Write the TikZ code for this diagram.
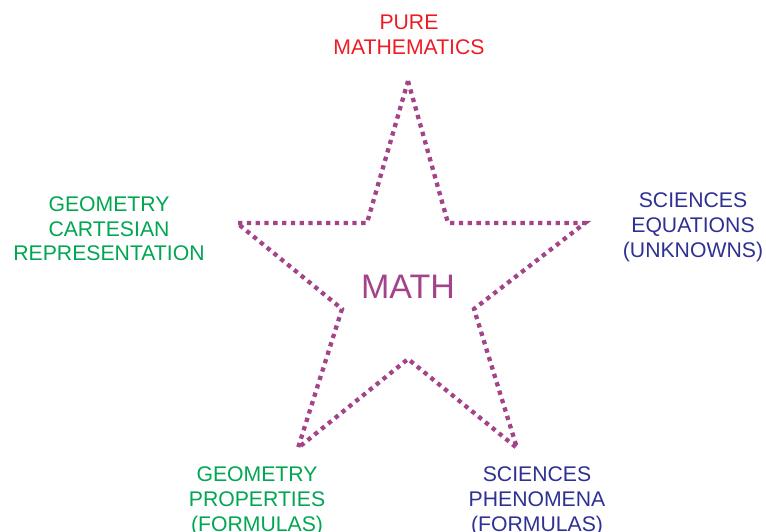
\documentclass[tikz,border=0pt]{standalone}
\usepackage{fontspec}
\setmainfont{Liberation Sans}
\definecolor{starpurple}{HTML}{A3448A}
\definecolor{mred}{HTML}{ED1C24}
\definecolor{mgreen}{HTML}{00A651}
\definecolor{mnavy}{HTML}{2E3192}
\begin{document}
\begin{tikzpicture}[x=1pt,y=-1pt,
  lbl/.style={anchor=north,inner sep=0pt,align=center,font=\fontsize{21.2}{24.6}\selectfont},
  starline/.style={draw=starpurple,line width=4.3pt,dash pattern=on 4.3pt off 4.5pt,line join=miter}]
\useasboundingbox (0,0) rectangle (766,532);
\coordinate (t) at (408,81);
\coordinate (ri) at (448,223);
\coordinate (r) at (585,223);
\coordinate (rl) at (474,309);
\coordinate (br) at (517,448);
\coordinate (b) at (408,359);
\coordinate (bl) at (298,448);
\coordinate (ll) at (342,309);
\coordinate (l) at (237,223);
\coordinate (li) at (367,223);
\draw[starline] (t) -- (ri) -- (r) -- (rl) -- (br) -- (b) -- (bl) -- (ll) -- (l) -- (li) -- cycle;
\node[anchor=base,inner sep=0pt,text=starpurple,font=\fontsize{34}{40}\selectfont] (math) at (408,298) {MATH};
\node[lbl,text=mred] (pure) at (409,14.8) {PURE\\MATHEMATICS};
\node[lbl,text=mgreen] (geocart) at (109,196.6) {GEOMETRY\\CARTESIAN\\REPRESENTATION};
\node[lbl,text=mnavy] (scieq) at (693,192.8) {SCIENCES\\EQUATIONS\\(UNKNOWNS)};
\node[lbl,text=mgreen] (geoprop) at (257,466.8) {GEOMETRY\\PROPERTIES\\(FORMULAS)};
\node[lbl,text=mnavy] (sciphen) at (537,466.8) {SCIENCES\\PHENOMENA\\(FORMULAS)};
\end{tikzpicture}
\end{document}
